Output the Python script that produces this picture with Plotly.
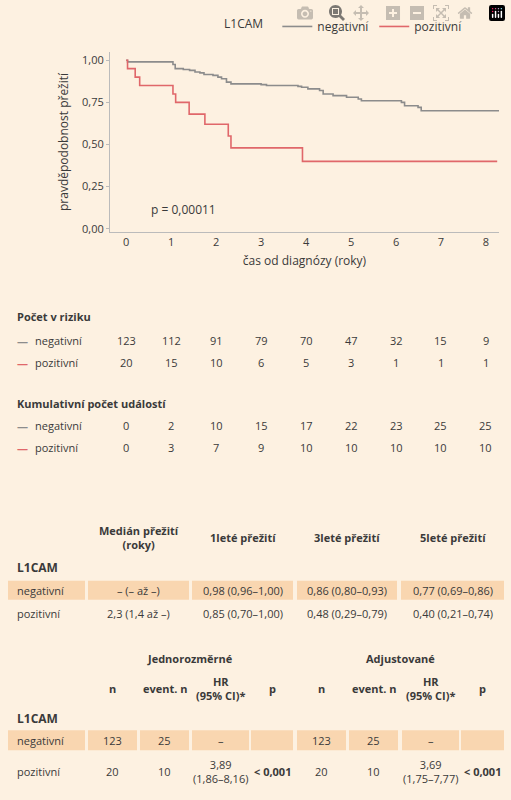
import plotly.graph_objects as go

# Kaplan-Meier steps
neg_t = [0, 0.03, 1.04, 1.09, 1.27, 1.41, 1.53, 1.64, 1.73, 1.93, 2.04, 2.12, 2.23, 2.33, 3.0, 3.12,
         3.82, 3.9, 4.04, 4.3, 4.38, 4.6, 4.9, 5.16, 5.23, 6.12, 6.19, 6.49, 6.56, 8.3]
neg_s = [1.0, 0.99, 0.975, 0.95, 0.945, 0.94, 0.93, 0.925, 0.915, 0.91, 0.90, 0.89, 0.87, 0.86, 0.855, 0.85,
         0.845, 0.84, 0.83, 0.82, 0.80, 0.79, 0.78, 0.77, 0.76, 0.75, 0.73, 0.72, 0.70, 0.70]
pos_t = [0, 0.03, 0.2, 0.3, 1.04, 1.1, 1.4, 1.75, 2.27, 2.33, 3.92, 8.25]
pos_s = [1.0, 0.95, 0.90, 0.85, 0.80, 0.75, 0.68, 0.62, 0.55, 0.48, 0.40, 0.40]

years = [0, 1, 2, 3, 4, 5, 6, 7, 8]
risk_neg = [123, 112, 91, 79, 70, 47, 32, 15, 9]
risk_pos = [20, 15, 10, 6, 5, 3, 1, 1, 1]
events_neg = [0, 2, 10, 15, 17, 22, 23, 25, 25]
events_pos = [0, 3, 7, 9, 10, 10, 10, 10, 10]

surv_head = ["Medián přežití<br>(roky)", "1leté přežití", "3leté přežití", "5leté přežití"]
surv_neg = ["– (– až –)", "0,98 (0,96–1,00)", "0,86 (0,80–0,93)", "0,77 (0,69–0,86)"]
surv_pos = ["2,3 (1,4 až –)", "0,85 (0,70–1,00)", "0,48 (0,29–0,79)", "0,40 (0,21–0,74)"]

cox_head = ["n", "event. n", "HR<br>(95% CI)*", "p", "n", "event. n", "HR<br>(95% CI)*", "p"]
cox_neg = ["123", "25", "–", "", "123", "25", "–", ""]
cox_pos = ["20", "10", "3,89<br>(1,86–8,16)", "<b>< 0,001</b>", "20", "10", "3,69<br>(1,75–7,77)", "<b>< 0,001</b>"]

GREY = "#8c8c8c"
RED = "#e0676a"
BG = "#fdf1e1"
CELL = "#f9d6b0"
TXT = "#3a3a3a"
W, H = 511, 800

fig = go.Figure()
fig.add_trace(go.Scatter(x=neg_t, y=neg_s, mode="lines", line=dict(color=GREY, width=1.6, shape="hv"),
                         name="negativní"))
fig.add_trace(go.Scatter(x=pos_t, y=pos_s, mode="lines", line=dict(color=RED, width=1.6, shape="hv"),
                         name="pozitivní"))

def py(p):
    return 1 - p / H

def px_(p):
    return p / W

ann = []
def txt(x, y, s, xref="paper", size=11, bold=False, anchor="center", color=TXT):
    ann.append(dict(x=x, y=y, xref=xref, yref="paper", text=("<b>%s</b>" % s) if bold else s,
                    showarrow=False, xanchor=anchor, yanchor="middle", font=dict(size=size, color=color)))

txt(0.5, py(210), "p = 0,00011", xref="x", anchor="left", size=12)

# risk tables
txt(px_(15), py(318), "Počet v riziku", bold=True, anchor="left")
txt(px_(15), py(405), "Kumulativní počet událostí", bold=True, anchor="left")
for yy, col, lab in [(342, GREY, "negativní"), (364, RED, "pozitivní"), (427, GREY, "negativní"), (449, RED, "pozitivní")]:
    txt(px_(15), py(yy), "—", anchor="left", color=col, bold=True)
    txt(px_(33), py(yy), lab, anchor="left")
for i, t in enumerate(years):
    txt(t, py(342), str(risk_neg[i]), xref="x")
    txt(t, py(364), str(risk_pos[i]), xref="x")
    txt(t, py(427), str(events_neg[i]), xref="x")
    txt(t, py(449), str(events_pos[i]), xref="x")

shapes = []
def cell(x0, x1, y0, y1):
    shapes.append(dict(type="rect", xref="paper", yref="paper", x0=px_(x0), x1=px_(x1), y0=py(y1), y1=py(y0),
                       fillcolor=CELL, line=dict(width=0), layer="below"))

# survival table
s_cols = [(88, 189), (192, 293), (297, 397), (401, 504)]
for (a, b), h, n, p in zip(s_cols, surv_head, surv_neg, surv_pos):
    c = px_((a + b) / 2)
    txt(c, py(540), h, bold=True)
    cell(a, b, 583, 602)
    txt(c, py(593), n)
    txt(c, py(616), p)
cell(8, 85, 583, 602)
txt(px_(15), py(570), "L1CAM", bold=True, anchor="left", size=12)
txt(px_(15), py(593), "negativní", anchor="left")
txt(px_(15), py(616), "pozitivní", anchor="left")

# cox table
c_cols = [(88, 137), (140, 189), (192, 249), (251, 293), (297, 346), (349, 398), (402, 459), (461, 504)]
txt(px_(190), py(661), "Jednorozměrné", bold=True)
txt(px_(400), py(661), "Adjustované", bold=True)
for (a, b), h, n, p in zip(c_cols, cox_head, cox_neg, cox_pos):
    c = px_((a + b) / 2)
    txt(c, py(691), h, bold=True)
    cell(a, b, 733, 753)
    txt(c, py(743), n)
    txt(c, py(774), p)
cell(8, 85, 733, 753)
txt(px_(15), py(721), "L1CAM", bold=True, anchor="left", size=12)
txt(px_(15), py(743), "negativní", anchor="left")
txt(px_(15), py(774), "pozitivní", anchor="left")

fig.update_layout(
    width=W, height=H, margin=dict(l=0, r=0, t=0, b=0),
    paper_bgcolor=BG, plot_bgcolor=BG,
    font=dict(family="Open Sans", size=11, color=TXT),
    showlegend=True,
    legend=dict(orientation="h", x=px_(222), y=py(12), xanchor="left", yanchor="top",
                title=dict(text="L1CAM  ", font=dict(size=12)), font=dict(size=12), bgcolor="rgba(0,0,0,0)"),
    xaxis=dict(domain=[px_(110), px_(499)], range=[-0.36, 8.29], tickvals=years, showgrid=False,
               zeroline=False, showline=True, linecolor="#bbbbbb", ticks="", tickfont=dict(size=11),
               title=dict(text="čas od diagnózy (roky)", font=dict(size=12), standoff=8), anchor="y"),
    yaxis=dict(domain=[py(233), py(52)], range=[-0.02, 1.05], tickvals=[0, 0.25, 0.5, 0.75, 1.0],
               ticktext=["0,00", "0,25", "0,50", "0,75", "1,00"], showgrid=False, zeroline=False,
               showline=True, linecolor="#bbbbbb", ticks="outside", ticklen=3, tickcolor="#bbbbbb",
               title=dict(text="pravděpodobnost přežití", font=dict(size=12), standoff=10)),
    annotations=ann, shapes=shapes,
)
fig.write_html("out.html", post_script="document.body.style.margin='0';document.body.style.background='%s';" % BG)
